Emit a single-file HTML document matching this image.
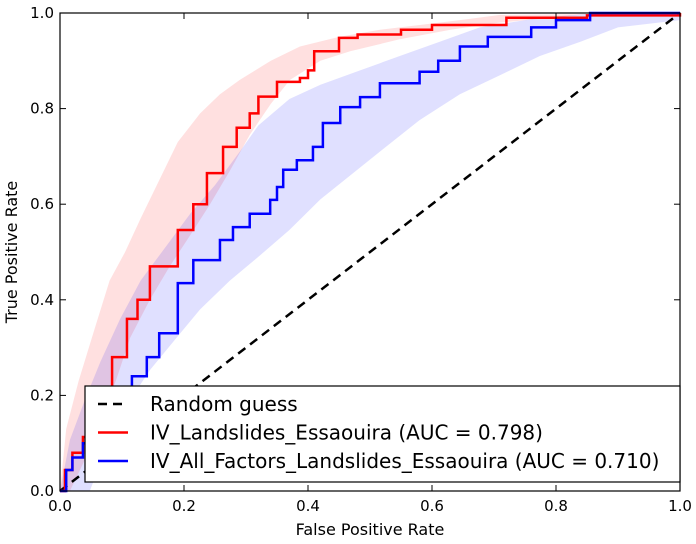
<!DOCTYPE html>
<html><head><meta charset="utf-8"><style>
body{margin:0;background:#fff;}
svg{display:block;font-family:"DejaVu Sans","Liberation Sans",sans-serif;}
</style></head><body>
<svg id="chart" width="696" height="544">
</svg>
<script>
const tickValues=[0,0.2,0.4,0.6,0.8,1.0];
const tickLabels=["0.0","0.2","0.4","0.6","0.8","1.0"];
const redFpr=[0,0.008,0.02,0.037,0.084,0.108,0.125,0.145,0.19,0.215,0.237,0.263,0.285,0.306,0.32,0.35,0.387,0.40,0.41,0.45,0.48,0.55,0.6,0.72,0.85,1.0];
const redTpr=[0,0.044,0.08,0.113,0.28,0.36,0.40,0.47,0.546,0.60,0.665,0.72,0.76,0.79,0.825,0.856,0.864,0.88,0.92,0.948,0.955,0.965,0.975,0.99,0.995,1.0];
const blueFpr=[0,0.01,0.02,0.037,0.113,0.116,0.14,0.16,0.19,0.215,0.226,0.258,0.279,0.306,0.339,0.35,0.36,0.382,0.408,0.424,0.452,0.484,0.516,0.58,0.61,0.645,0.69,0.76,0.8,0.855,1.0];
const blueTpr=[0,0.044,0.07,0.1,0.21,0.24,0.28,0.33,0.435,0.483,0.483,0.525,0.552,0.58,0.609,0.636,0.672,0.692,0.72,0.77,0.803,0.824,0.853,0.877,0.90,0.93,0.95,0.97,0.985,1.0,1.0];
const redUpX=[0,0.01,0.03,0.056,0.08,0.105,0.13,0.16,0.19,0.226,0.258,0.29,0.34,0.387,0.45,0.516,0.58,0.645,0.71,1.0];
const redUpY=[0,0.13,0.23,0.34,0.44,0.50,0.57,0.65,0.73,0.79,0.83,0.86,0.90,0.93,0.95,0.965,0.975,0.985,0.996,1.0];
const redLoX=[0,0.016,0.04,0.065,0.09,0.113,0.145,0.177,0.21,0.242,0.274,0.306,0.34,0.371,0.42,0.468,0.548,0.63,0.71,0.84,1.0];
const redLoY=[0,0,0.065,0.15,0.23,0.32,0.40,0.47,0.535,0.60,0.67,0.745,0.81,0.86,0.90,0.92,0.945,0.965,0.98,0.996,1.0];
const blueUpX=[0,0.016,0.04,0.065,0.097,0.13,0.17,0.21,0.25,0.29,0.32,0.37,0.42,0.484,0.548,0.613,0.677,0.774,0.87,1.0];
const blueUpY=[0,0.107,0.19,0.27,0.36,0.44,0.51,0.58,0.64,0.71,0.765,0.82,0.85,0.88,0.91,0.94,0.97,0.99,1.0,1.0];
const blueLoX=[0,0.048,0.08,0.113,0.145,0.185,0.226,0.274,0.32,0.37,0.42,0.468,0.516,0.58,0.645,0.71,0.774,0.84,0.9,1.0];
const blueLoY=[0,0,0.107,0.19,0.253,0.316,0.38,0.44,0.49,0.546,0.61,0.66,0.71,0.776,0.83,0.87,0.91,0.94,0.97,0.985];

const X0=60,X1=680,Y0=491,Y1=13;
const sx=v=>X0+v*(X1-X0);
const sy=v=>Y0-v*(Y0-Y1);
const NS="http://www.w3.org/2000/svg";
const svg=document.getElementById('chart');
function mk(tag,attrs,parent){const e=document.createElementNS(NS,tag);for(const k in attrs)e.setAttribute(k,attrs[k]);(parent||svg).appendChild(e);return e;}
function stepPath(xs,ys){let d=`M${sx(xs[0])},${sy(ys[0])}`;for(let i=1;i<xs.length;i++){d+=`L${sx(xs[i])},${sy(ys[i-1])}L${sx(xs[i])},${sy(ys[i])}`;}return d;}
function bandPath(ux,uy,lx,ly){let d='';for(let i=0;i<ux.length;i++)d+=(i?'L':'M')+sx(ux[i])+','+sy(uy[i]);for(let i=lx.length-1;i>=0;i--)d+='L'+sx(lx[i])+','+sy(ly[i]);return d+'Z';}

const rb=mk('path',{d:bandPath(redUpX,redUpY,redLoX,redLoY),fill:'#ff0000','fill-opacity':0.12});


const bb=mk('path',{d:bandPath(blueUpX,blueUpY,blueLoX,blueLoY),fill:'#0000ff','fill-opacity':0.12});


const diag=mk('line',{x1:sx(0),y1:sy(0),x2:sx(1),y2:sy(1),stroke:'#000','stroke-width':2.5,'stroke-dasharray':'9,6'});


const rl=mk('path',{d:stepPath(redFpr,redTpr),fill:'none',stroke:'#ff0000','stroke-width':2.5});


const bl=mk('path',{d:stepPath(blueFpr,blueTpr),fill:'none',stroke:'#0000ff','stroke-width':2.5});



const frame=mk('rect',{x:X0,y:Y1,width:X1-X0,height:Y0-Y1,fill:'none',stroke:'#000','stroke-width':1.2});


tickValues.forEach((v,i)=>{
  mk('line',{x1:sx(v),y1:Y0,x2:sx(v),y2:Y0-6,stroke:'#000'});
  mk('line',{x1:sx(v),y1:Y1,x2:sx(v),y2:Y1+6,stroke:'#000'});
  mk('line',{x1:X0,y1:sy(v),x2:X0+6,y2:sy(v),stroke:'#000'});
  mk('line',{x1:X1,y1:sy(v),x2:X1-6,y2:sy(v),stroke:'#000'});
  const tx=mk('text',{x:sx(v),y:Y0+20,'text-anchor':'middle','font-size':15});
  tx.textContent=tickLabels[i];
  
  
  const ty=mk('text',{x:X0-6,y:sy(v)+5,'text-anchor':'end','font-size':15});
  ty.textContent=tickLabels[i];
  
  
});
const xt=mk('text',{x:(X0+X1)/2,y:535,'text-anchor':'middle','font-size':16});
xt.textContent='False Positive Rate';


const yt=mk('text',{x:17,y:(Y0+Y1)/2,'text-anchor':'middle','font-size':16,transform:`rotate(-90 17 ${(Y0+Y1)/2})`});
yt.textContent='True Positive Rate';



const lg=mk('g',{});


mk('rect',{x:85,y:386,width:595,height:96,fill:'#fff',stroke:'#000','stroke-width':1.2},lg);
const entries=[['Random guess','#000','9,6'],['IV_Landslides_Essaouira (AUC = 0.798)','#ff0000',''],['IV_All_Factors_Landslides_Essaouira (AUC = 0.710)','#0000ff','']];
entries.forEach((e,i)=>{
  const y=404+i*28.5;
  const g=mk('g',{},lg);
  
  
  const a={x1:98,y1:y,x2:128,y2:y,stroke:e[1],'stroke-width':2.5};
  if(e[2])a['stroke-dasharray']=e[2];
  mk('line',a,g);
  const t=mk('text',{x:150,y:y+7,'font-size':20},g);
  t.textContent=e[0];
});
</script>
</body></html>
